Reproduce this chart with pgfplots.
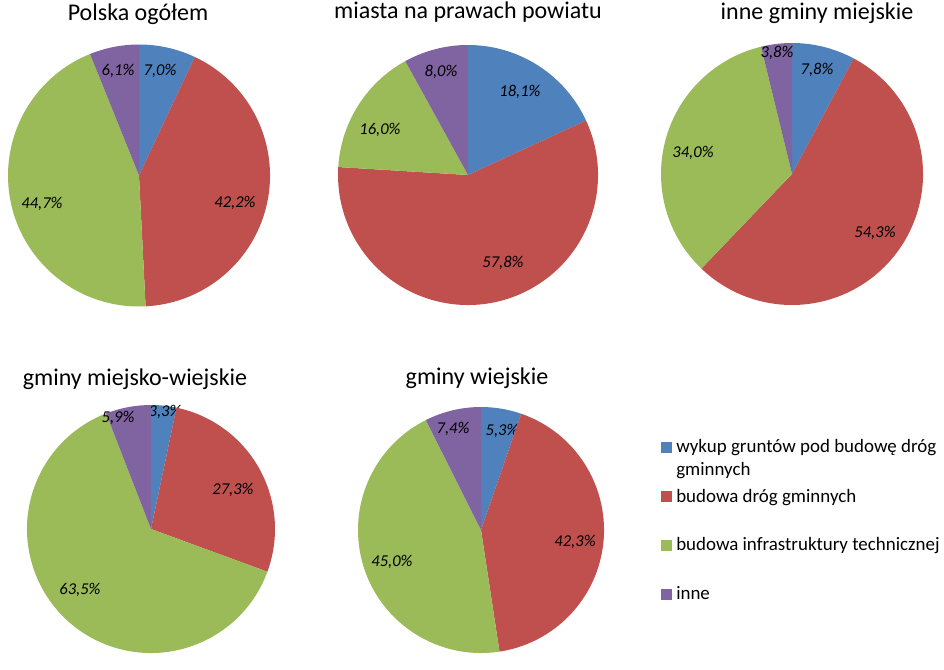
\documentclass[border=0pt]{standalone}
\usepackage{fontspec}
\setmainfont{Carlito}
\usepackage{pgfplots}
\pgfplotsset{compat=1.18}
\definecolor{c1}{HTML}{4F81BD}
\definecolor{c2}{HTML}{C0504D}
\definecolor{c3}{HTML}{9BBB59}
\definecolor{c4}{HTML}{8064A2}
\def\pxu{0.75pt}
\newcommand\ttl{\fontsize{18}{21}\selectfont}
\newcommand\lgd{\fontsize{14.2}{17}\selectfont}
\newcommand\lbl{\fontsize{12.4}{15}\selectfont\itshape}
% #1 cx, #2 cy (image pixels from top), #3 radius, #4 list value/colour/label dx/label dy
\newcommand{\drawpie}[4]{%
  \pgfmathsetmacro\pcy{662-#2}%
  \gdef\pietot{0}%
  \foreach \v/\col/\ddx/\ddy in {#4} {\pgfmathparse{\pietot+\v}\xdef\pietot{\pgfmathresult}}%
  \gdef\piecum{0}%
  \foreach \v/\col/\ddx/\ddy in {#4} {%
    \pgfmathsetmacro\sa{90-3.6*(\piecum/\pietot*100)}%
    \pgfmathparse{\piecum+\v}\xdef\piecum{\pgfmathresult}%
    \pgfmathsetmacro\sb{90-3.6*(\piecum/\pietot*100)}%
    \pgfmathsetmacro\sx{#1+#3*cos(\sa)}%
    \pgfmathsetmacro\sy{\pcy+#3*sin(\sa)}%
    \pgfmathsetmacro\lx{#1+\ddx}%
    \pgfmathsetmacro\ly{\pcy+\ddy}%
    \edef\tmp{\noexpand\fill[\col] (axis cs:#1,\pcy) -- (axis cs:\sx,\sy) arc[start angle=\sa, end angle=\sb, radius=#3*\pxu] -- cycle;
      \noexpand\node[font=\noexpand\lbl, inner sep=0pt] at (axis cs:\lx,\ly) {\noexpand\pgfmathprintnumber[assume math mode=true,fixed,fixed zerofill,precision=1,use comma]{\v}\noexpand\%};}%
    \tmp
  }%
}
\begin{document}
\begin{tikzpicture}
\begin{axis}[x=0.75pt, y=0.75pt, xmin=0, xmax=944, ymin=0, ymax=662,
  hide axis, clip=false, scale only axis]
\path (axis cs:0,0) rectangle (axis cs:944,662);
% Polska ogółem
\drawpie{139}{175.5}{131}{7.0/c1/21/104.5, 42.2/c2/96/-27.5, 44.7/c3/-97/-28.5, 6.1/c4/-21/104.5}
% miasta na prawach powiatu
\drawpie{468}{175}{130}{18.1/c1/52/83, 57.8/c2/35/-88, 16.0/c3/-88/45, 8.0/c4/-27/103}
% inne gminy miejskie
\drawpie{792}{174}{131}{7.8/c1/25/104, 54.3/c2/83/-59, 34.0/c3/-99/21, 3.8/c4/-15/121}
% gminy miejsko-wiejskie
\drawpie{151}{529}{124}{3.3/c1/14/117, 27.3/c2/82/39, 63.5/c3/-71/-61, 5.9/c4/-33/111}
% gminy wiejskie
\drawpie{481}{530}{123}{5.3/c1/21/99, 42.3/c2/94/-12, 45.0/c3/-89/-32, 7.4/c4/-28/101}
% titles
\node[font=\ttl, anchor=base, inner sep=0pt] at (axis cs:138,641) {Polska ogółem};
\node[font=\ttl, anchor=base, inner sep=0pt] at (axis cs:468,643) {miasta na prawach powiatu};
\node[font=\ttl, anchor=base, inner sep=0pt] at (axis cs:817,642) {inne gminy miejskie};
\node[font=\ttl, anchor=base, inner sep=0pt] at (axis cs:135,277) {gminy miejsko-wiejskie};
\node[font=\ttl, anchor=base, inner sep=0pt] at (axis cs:477,278) {gminy wiejskie};
% legend
\fill[c1] (axis cs:661,209) rectangle (axis cs:672,220);
\fill[c2] (axis cs:661,160) rectangle (axis cs:672,171);
\fill[c3] (axis cs:661,111) rectangle (axis cs:672,122);
\fill[c4] (axis cs:661,62) rectangle (axis cs:672,73);
\node[font=\lgd, anchor=base west, inner sep=0pt] at (axis cs:676,210) {wykup gruntów pod budowę dróg};
\node[font=\lgd, anchor=base west, inner sep=0pt] at (axis cs:676,187) {gminnych};
\node[font=\lgd, anchor=base west, inner sep=0pt] at (axis cs:676,160) {budowa dróg gminnych};
\node[font=\lgd, anchor=base west, inner sep=0pt] at (axis cs:676,112) {budowa infrastruktury technicznej};
\node[font=\lgd, anchor=base west, inner sep=0pt] at (axis cs:676,63) {inne};
\end{axis}
\end{tikzpicture}
\end{document}
